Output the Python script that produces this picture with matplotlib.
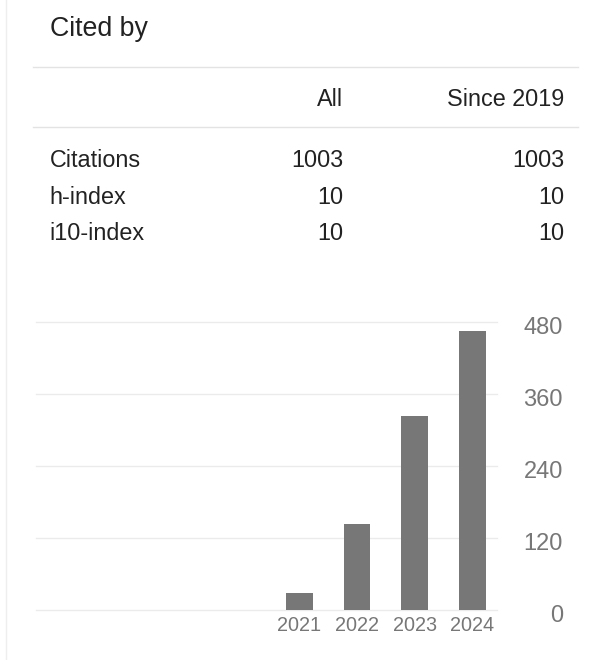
import matplotlib
matplotlib.use("Agg")
import matplotlib.pyplot as plt
from matplotlib.transforms import ScaledTranslation
from matplotlib.lines import Line2D

# ---- data ----
title = "Cited by"
col_headers = ["All", "Since 2019"]
row_labels = ["Citations", "h-index", "i10-index"]
all_values = ["1003", "10", "10"]
since_values = ["1003", "10", "10"]

years = ["2021", "2022", "2023", "2024"]
citations = [29, 143, 323, 465]
y_ticks = [0, 120, 240, 360, 480]

W, H = 606, 660
DPI = 100
plt.rcParams['font.family'] = ['Liberation Sans', 'DejaVu Sans']

fig = plt.figure(figsize=(W / DPI, H / DPI), dpi=DPI)
fig.patch.set_facecolor('white')

def fx(px):
    return px / W

def fy(py):
    return 1 - py / H

text_color = '#222222'
tfs = 16.8

# title
fig.text(fx(50.5), fy(35.7), title, fontsize=19.3, color=text_color,
         ha='left', va='baseline')

# table lines
for yl in [66.7, 126.5]:
    fig.add_artist(Line2D([fx(33), fx(578)], [fy(yl), fy(yl)],
                          color='#e3e3e3', lw=1.0))

# faint left border
fig.add_artist(Line2D([fx(6), fx(6)], [0, 1], color='#eeeeee', lw=1.0))

# headers
col_x = [343, 564]
for cx, hdr in zip(col_x, col_headers):
    fig.text(fx(cx), fy(106), hdr, fontsize=tfs, color=text_color,
             ha='right', va='baseline')

row_y = [167, 204, 240.5]
for ry, lab, a, s in zip(row_y, row_labels, all_values, since_values):
    fig.text(fx(49.8), fy(ry), lab, fontsize=tfs, color=text_color,
             ha='left', va='baseline')
    fig.text(fx(col_x[0]), fy(ry), a, fontsize=tfs, color=text_color,
             ha='right', va='baseline')
    fig.text(fx(col_x[1]), fy(ry), s, fontsize=tfs, color=text_color,
             ha='right', va='baseline')

# chart axes
ax_left, ax_right, ax_top, ax_bottom = 36, 497, 322, 610
ax = fig.add_axes([fx(ax_left), fy(ax_bottom), (ax_right - ax_left) / W,
                   (ax_bottom - ax_top) / H])
ax.set_facecolor('none')
xpos = list(range(len(years)))
ax.bar(xpos, citations, width=0.463, color='#777777', zorder=3)
ax.set_xlim(-4.566, 3.428)
ax.set_ylim(0, 480)
for sp in ax.spines.values():
    sp.set_visible(False)

ax.set_yticks(y_ticks)
ax.set_yticklabels([str(t) for t in y_ticks])
ax.yaxis.tick_right()
ax.tick_params(axis='y', length=0, pad=(563 - ax_right) * 72 / DPI,
               labelsize=17, labelcolor='#777777')
ax.grid(axis='y', color='#ebebeb', lw=1.0, zorder=0)
ax.set_axisbelow(True)
for gl in ax.get_ygridlines():
    gl.set_clip_on(False)
off = ScaledTranslation(0, -3 / DPI, fig.dpi_scale_trans)
for lab in ax.get_yticklabels():
    lab.set_horizontalalignment('right')
    lab.set_transform(lab.get_transform() + off)

ax.set_xticks(xpos)
ax.set_xticklabels(years)
ax.tick_params(axis='x', length=0, pad=4.6, labelsize=14.3, labelcolor='#777777')

fig.savefig('out.png', dpi=DPI, facecolor='white')
